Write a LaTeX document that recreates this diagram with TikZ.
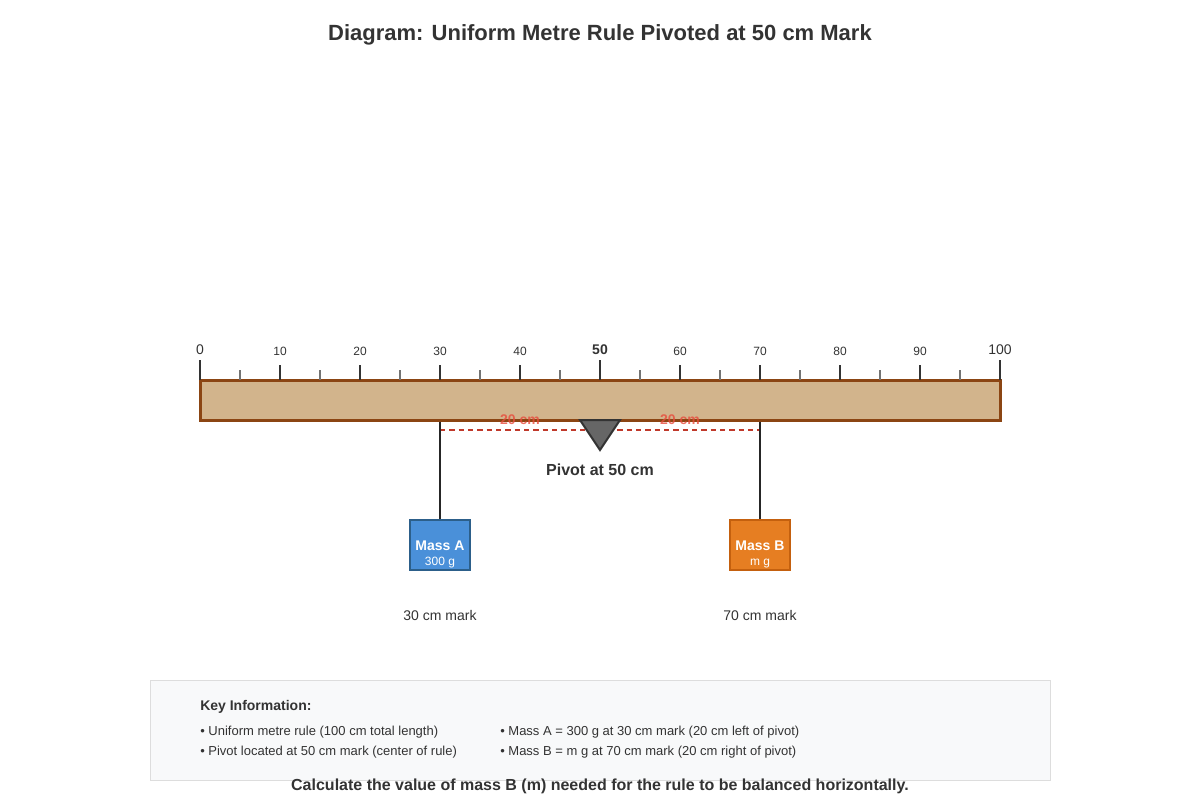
\documentclass[tikz,border=0pt]{standalone}
\usepackage{fontspec}
\setmainfont{Liberation Sans}
\definecolor{ink}{HTML}{333333}
\definecolor{ruletan}{HTML}{D2B48C}
\definecolor{rulebrown}{HTML}{8B4513}
\definecolor{massblue}{HTML}{4A90D9}
\definecolor{massblueline}{HTML}{2C5F8A}
\definecolor{massorange}{HTML}{E67E22}
\definecolor{massorangeline}{HTML}{C4600E}
\definecolor{dimred}{HTML}{C0392B}
\definecolor{labelred}{HTML}{E74C3C}
\definecolor{infobg}{HTML}{F8F9FA}
\definecolor{infoline}{HTML}{DDDDDD}
\newcommand{\px}[1]{\fontsize{#1}{#1}\selectfont}
\begin{document}
\begin{tikzpicture}[x=0.75pt,y=-0.75pt,
    mass/.style={draw,line width=1.5pt,minimum width=45pt,minimum height=37.5pt,inner sep=0pt},
    masstext/.style={anchor=base,text=white,inner sep=0pt,font=\px{10.5}\bfseries},
    string/.style={draw=black!85,line width=1.5pt},
    scalenum/.style={text=ink,font=\px{9}},
    note/.style={text=ink,font=\px{10.5}},
    dist/.style={anchor=base,inner sep=0pt,text=labelred,text opacity=0.8,font=\px{10.5}\bfseries},
    keyline/.style={anchor=base west,inner sep=0pt,text=ink,font=\px{9.75}}]
  \useasboundingbox (0,0) rectangle (1200,800);

  \node[anchor=base,text=ink,font=\px{16.5}\bfseries] (title) at (600,40) {Diagram: Uniform Metre Rule Pivoted at 50 cm Mark};

  \node[draw=rulebrown,fill=ruletan,line width=2.25pt,minimum width=600pt,minimum height=30pt,inner sep=0pt] (rule) at (600,400) {};

  % scale
  \foreach \i in {5,15,...,95}
    \draw[draw=black!55,line width=1.1pt] (200+8*\i,370) -- (200+8*\i,380);
  \foreach \i in {10,20,30,40,60,70,80,90} {
    \draw[draw=ink,line width=1.5pt] (200+8*\i,365) -- (200+8*\i,380);
    \node[scalenum] (n\i) at (200+8*\i,351) {\i};
  }
  \foreach \i in {0,50,100}
    \draw[draw=ink,line width=1.5pt] (200+8*\i,360) -- (200+8*\i,380);
  \node[text=ink,font=\px{10.5}] (n0) at (200,350) {0};
  \node[text=ink,font=\px{10.5}\bfseries] (n50) at (600,350) {50};
  \node[text=ink,font=\px{10.5}] (n100) at (1000,350) {100};

  \coordinate (dimA) at (440,430);
  \coordinate (dimB) at (760,430);
  \draw[draw=dimred,line width=1.1pt,dash pattern=on 4pt off 3pt] (dimA) -- (dimB);
  \node[dist] (distA) at (520,424) {20 cm};
  \node[dist] (distB) at (680,424) {20 cm};

  % pivot
  \draw[fill=black!60,draw=ink,line width=1.5pt] (580,420) -- (620,420) -- (600,450) -- cycle;
  \node[anchor=base,text=ink,font=\px{12}\bfseries] (pivot) at (600,475) {Pivot at 50 cm};

  % masses
  \node[mass,draw=massblueline,fill=massblue] (massA) at (440,545) {};
  \node[masstext] at (440,550) {Mass A};
  \node[anchor=base,inner sep=0pt,text=white,font=\px{9}] at (440,565) {300 g};
  \node[mass,draw=massorangeline,fill=massorange] (massB) at (760,545) {};
  \node[masstext] at (760,550) {Mass B};
  \node[anchor=base,inner sep=0pt,text=white,font=\px{9}] at (760,565) {m g};

  \path[string] (rule.south -| massA) -- (massA.north);
  \path[string] (rule.south -| massB) -- (massB.north);

  \node[note] (markA) at (440,615) {30 cm mark};
  \node[note] (markB) at (760,615) {70 cm mark};

  % key information
  \node[draw=infoline,fill=infobg,line width=0.75pt,minimum width=675pt,minimum height=75pt,inner sep=0pt] (info) at (600,730) {};
  \node[anchor=base west,inner sep=0pt,text=ink,font=\px{10.5}\bfseries] (key) at (200,710) {Key Information:};
  \node[keyline] (k1) at (200,735) {• Uniform metre rule (100 cm total length)};
  \node[keyline] (k2) at (200,755) {• Pivot located at 50 cm mark (center of rule)};
  \node[keyline] (k3) at (500,735) {• Mass A = 300 g at 30 cm mark (20 cm left of pivot)};
  \node[keyline] (k4) at (500,755) {• Mass B = m g at 70 cm mark (20 cm right of pivot)};

  \node[anchor=base,text=ink,font=\px{12}\bfseries] (question) at (600,790) {Calculate the value of mass B (m) needed for the rule to be balanced horizontally.};
\end{tikzpicture}
\end{document}
